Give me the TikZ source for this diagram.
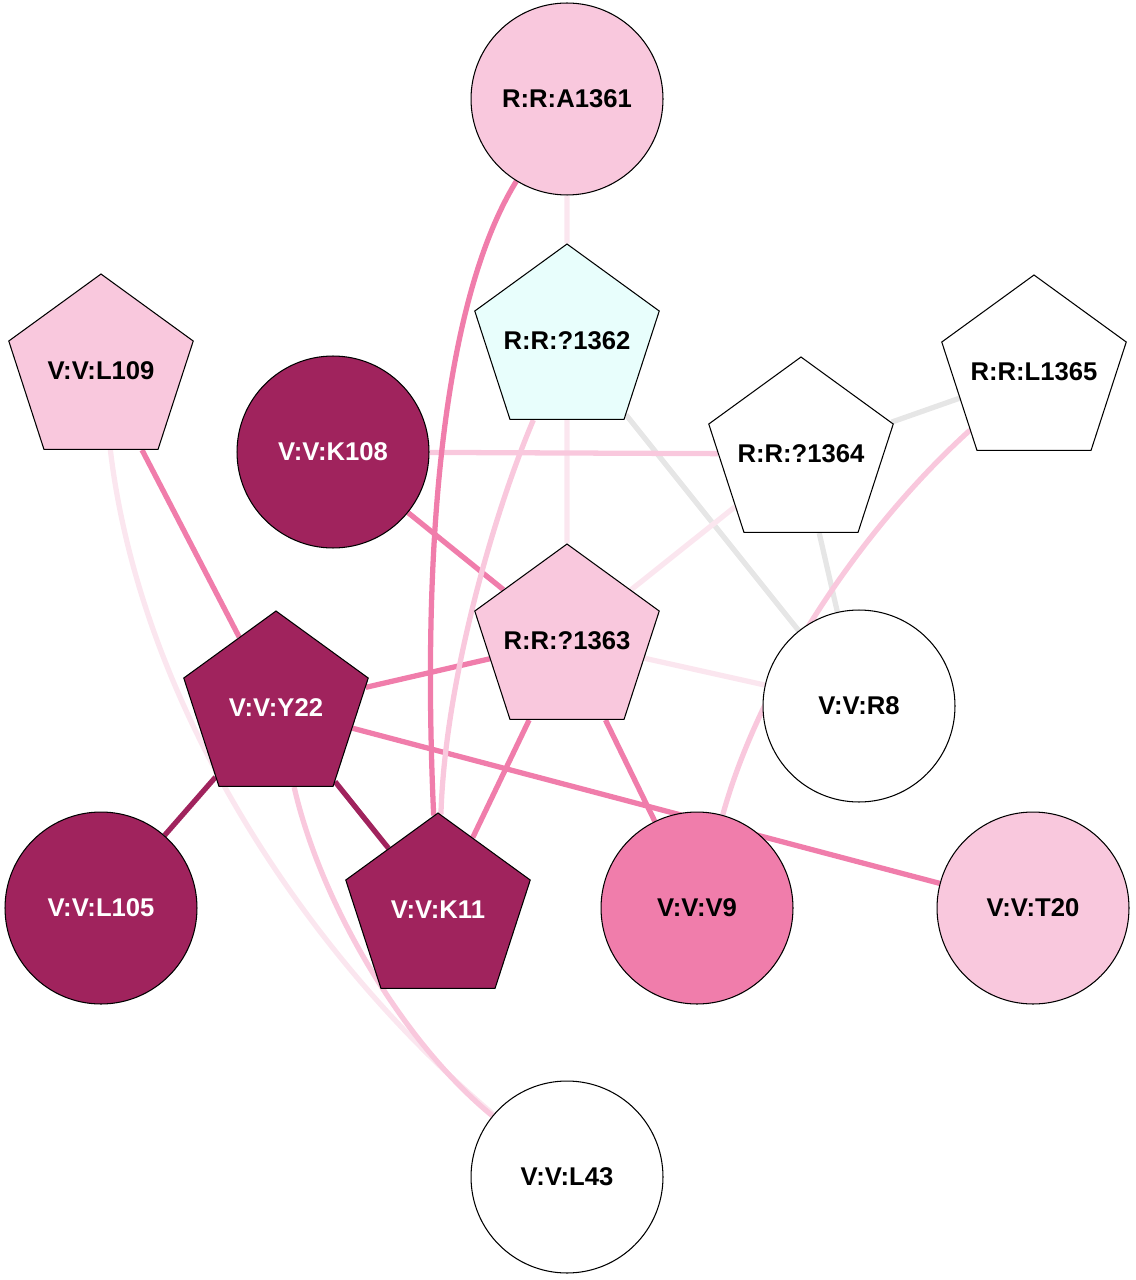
\documentclass[tikz,border=0pt]{standalone}
\usepackage{fontspec}
\setmainfont{Liberation Sans}
\usetikzlibrary{shapes.geometric,backgrounds}
\definecolor{lpink}{HTML}{F9C8DD}
\definecolor{vlpink}{HTML}{FBE6EF}
\definecolor{mpink}{HTML}{F07DAB}
\definecolor{dmag}{HTML}{A0235D}
\definecolor{lcyan}{HTML}{E8FEFC}
\definecolor{egrey}{HTML}{E6E6E6}
\begin{document}
\begin{tikzpicture}[x=0.02cm,y=-0.02cm,
  base/.style={draw=black, line width=0.6pt, font=\fontsize{14.6}{17}\selectfont\bfseries, text=black},
  circ/.style={base, circle, inner sep=-30pt, minimum size=3.84cm},
  pent/.style={base, regular polygon, regular polygon sides=5, inner sep=-30pt, minimum size=3.88cm},
  fl/.style={fill=lpink},
  fd/.style={fill=dmag, text=white},
  fm/.style={fill=mpink},
  fc/.style={fill=lcyan},
  fw/.style={fill=white},
  ed/.style={line width=3pt},
  ep/.style={ed, draw=mpink},
  el/.style={ed, draw=lpink},
  ev/.style={ed, draw=vlpink},
  eg/.style={ed, draw=egrey},
  ek/.style={ed, draw=dmag}
]
\useasboundingbox (0,0) rectangle (1135,1280);

\node[circ,fl] (A1361) at (567,99) {R:R:A1361};
\node[pent,fc] (Q1362) at (567,341) {R:R:?1362};
\node[pent,fl] (L109) at (101,371) {V:V:L109};
\node[pent,fw] (L1365) at (1034,372) {R:R:L1365};
\node[circ,fd] (K108) at (333,452) {V:V:K108};
\node[pent,fw] (Q1364) at (801,454) {R:R:?1364};
\node[pent,fl] (Q1363) at (567,641) {R:R:?1363};
\node[pent,fd] (Y22) at (276,708) {V:V:Y22};
\node[circ,fw] (R8) at (859,706) {V:V:R8};
\node[circ,fd] (L105) at (101,908) {V:V:L105};
\node[pent,fd] (K11) at (438,910) {V:V:K11};
\node[circ,fm] (V9) at (697,908) {V:V:V9};
\node[circ,fl] (T20) at (1033,908) {V:V:T20};
\node[circ,fw] (L43) at (567,1177) {V:V:L43};

\begin{scope}[on background layer]
\draw[ev] (A1361) -- (Q1362);
\draw[ev] (Q1362) -- (Q1363);
\draw[eg] (Q1362) -- (R8);
\draw[ep] (L109) -- (Y22);
\draw[el] (K108) -- (Q1364);
\draw[ep] (K108) -- (Q1363);
\draw[eg] (Q1364) -- (L1365);
\draw[eg] (Q1364) -- (R8);
\draw[ev] (Q1364) -- (Q1363);
\draw[ep] (Q1363) -- (Y22);
\draw[ev] (Q1363) -- (R8);
\draw[ep] (Q1363) -- (K11);
\draw[ep] (Q1363) -- (V9);
\draw[ek] (Y22) -- (L105);
\draw[ek] (Y22) -- (K11);
\draw[ep] (Y22) -- (T20);
\draw[ep] (A1361) .. controls (440,305) and (422,560) .. (K11);
\draw[el] (Q1362) .. controls (495,510) and (445,680) .. (K11);
\draw[ev] (L109) .. controls (140,700) and (300,950) .. (L43);
\draw[el] (Y22) .. controls (320,900) and (400,1040) .. (L43);
\draw[el] (L1365) .. controls (860,530) and (760,680) .. (V9);
\end{scope}
\end{tikzpicture}
\end{document}
